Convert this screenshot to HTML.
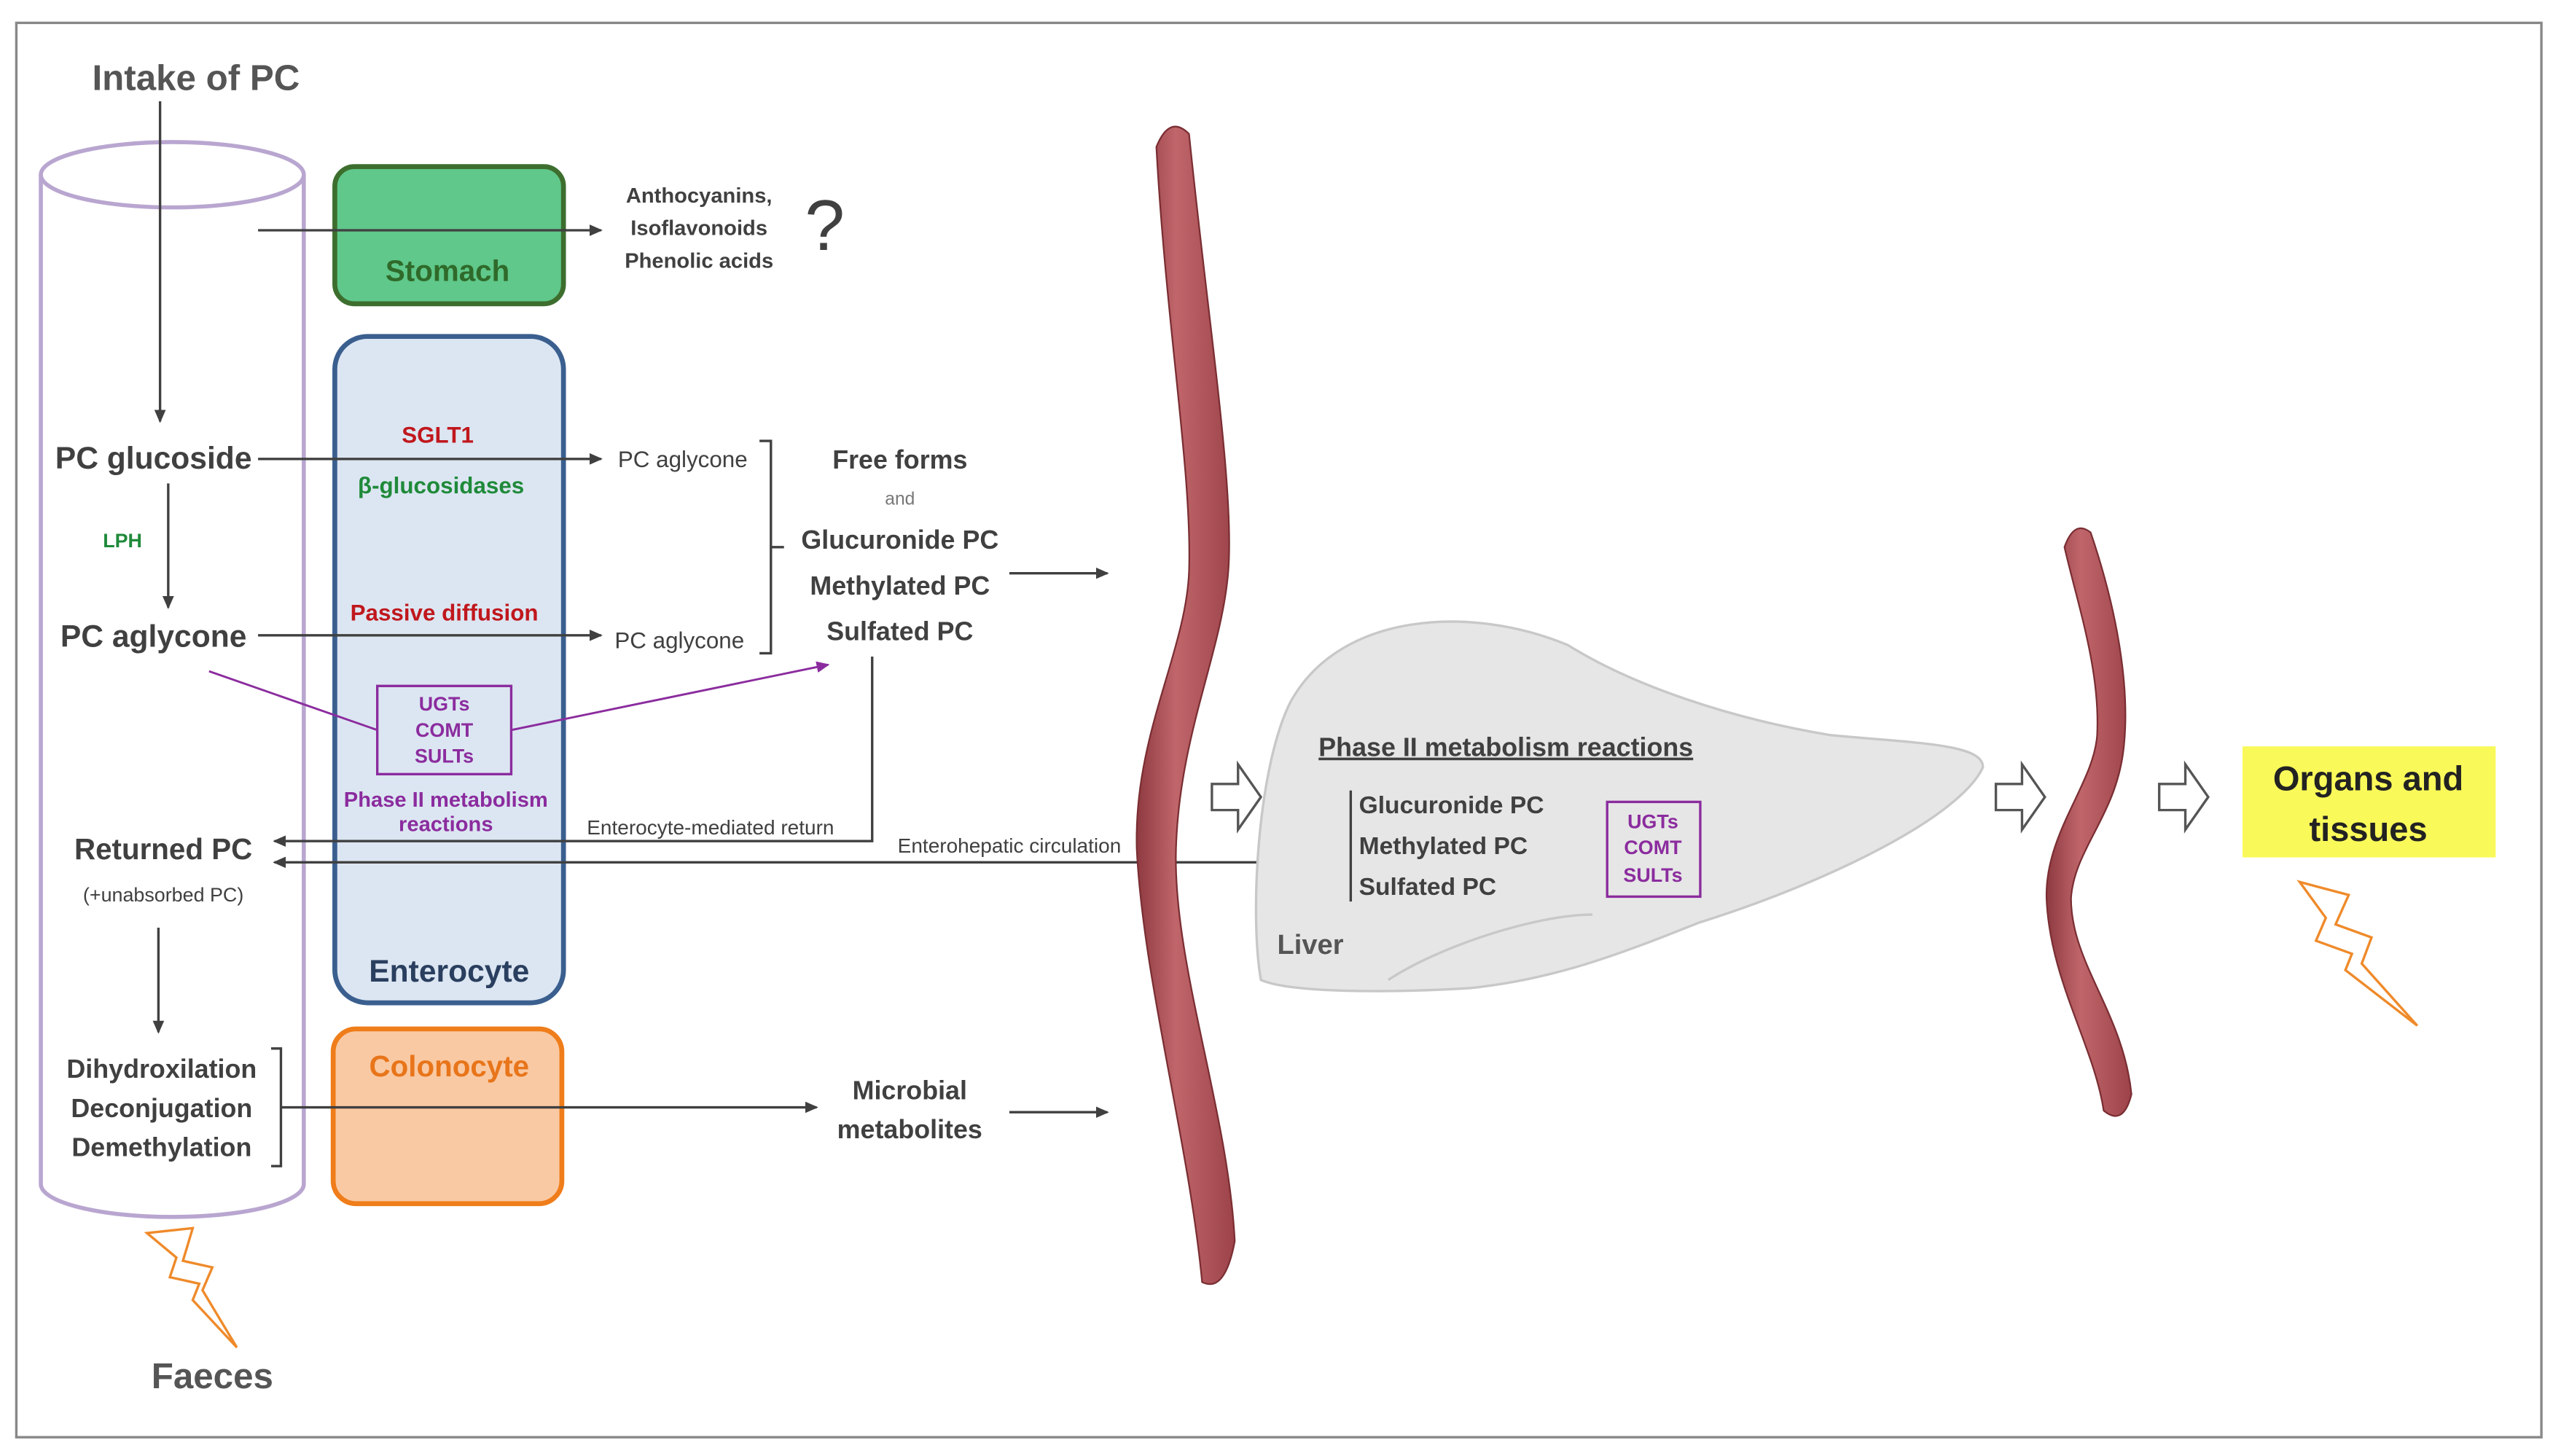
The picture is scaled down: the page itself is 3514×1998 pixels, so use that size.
<!DOCTYPE html>
<html><head><meta charset="utf-8"><style>
html,body{margin:0;padding:0;background:#fff}
svg{display:block}
text{font-family:"Liberation Sans",sans-serif;}
</style></head><body>
<svg width="3514" height="1998" viewBox="0 0 1568 891.5" preserveAspectRatio="none" xmlns="http://www.w3.org/2000/svg">
<defs>
<marker id="a" markerWidth="8" markerHeight="8" refX="7" refY="4" orient="auto" markerUnits="userSpaceOnUse"><path d="M0,0.5 L8,4 L0,7.5 Z" fill="#404040"/></marker>
<marker id="p" markerWidth="8" markerHeight="8" refX="7" refY="4" orient="auto" markerUnits="userSpaceOnUse"><path d="M0,0.5 L8,4 L0,7.5 Z" fill="#8b2c9e"/></marker>
<linearGradient id="v" x1="0" x2="1"><stop offset="0" stop-color="#8e3a40"/><stop offset="0.4" stop-color="#c0666b"/><stop offset="1" stop-color="#9c4349"/></linearGradient>
</defs>
<rect x="10" y="14" width="1546" height="866" fill="#fff" stroke="#888" stroke-width="1.5"/>
<path d="M25,107 L25,725 A80,20 0 0 0 186,725 L186,107" fill="none" stroke="#b9a6d0" stroke-width="2.5"/>
<ellipse cx="105.5" cy="107" rx="80.5" ry="20" fill="none" stroke="#b9a6d0" stroke-width="2.5"/>
<g fill="#404040" font-weight="bold" text-anchor="middle">
<text x="120" y="55" font-size="22" fill="#555">Intake of PC</text>
<text x="130" y="850" font-size="22" fill="#555">Faeces</text>
<text x="94" y="287" font-size="19">PC glucoside</text>
<text x="94" y="396" font-size="19">PC aglycone</text>
<text x="100" y="526" font-size="18">Returned PC</text>
<text x="100" y="552" font-size="12" font-weight="normal">(+unabsorbed PC)</text>
<text x="99" y="660" font-size="16">Dihydroxilation</text>
<text x="99" y="684" font-size="16">Deconjugation</text>
<text x="99" y="708" font-size="16">Demethylation</text>
<text x="75" y="335" font-size="12" fill="#1f8a3a">LPH</text>
</g>
<g stroke="#404040" stroke-width="1.5" fill="none">
<line x1="98" y1="62" x2="98" y2="258" marker-end="url(#a)"/>
<line x1="103" y1="296" x2="103" y2="372" marker-end="url(#a)"/>
<line x1="97" y1="568" x2="97" y2="632" marker-end="url(#a)"/>
</g>
<rect x="205" y="102" width="140" height="84" rx="12" fill="#5fc88a" stroke="#3d6e2e" stroke-width="3"/>
<text x="274" y="172" font-size="18" font-weight="bold" text-anchor="middle" fill="#2f6a2a">Stomach</text>
<rect x="205" y="206" width="140" height="408" rx="20" fill="#dce6f2" stroke="#3a5f8f" stroke-width="3"/>
<text x="275" y="601" font-size="19" font-weight="bold" text-anchor="middle" fill="#2a3f5f">Enterocyte</text>
<rect x="204" y="630" width="140" height="107" rx="14" fill="#f9c9a3" stroke="#ef7d1a" stroke-width="3"/>
<text x="275" y="659" font-size="18" font-weight="bold" text-anchor="middle" fill="#e8751a">Colonocyte</text>
<g font-weight="bold" text-anchor="middle" font-size="14">
<text x="268" y="271" fill="#c0171d">SGLT1</text>
<text x="270" y="302" fill="#1f8a3a">β-glucosidases</text>
<text x="272" y="380" fill="#c0171d">Passive diffusion</text>
<text x="273" y="494" fill="#8b2c9e" font-size="13">Phase II metabolism</text>
<text x="273" y="509" fill="#8b2c9e" font-size="13">reactions</text>
</g>
<rect x="231" y="420" width="82" height="54" fill="none" stroke="#8b2c9e" stroke-width="1.5"/>
<g fill="#8b2c9e" font-size="12" font-weight="bold" text-anchor="middle">
<text x="272" y="435">UGTs</text><text x="272" y="451">COMT</text><text x="272" y="467">SULTs</text>
</g>
<line x1="128" y1="411" x2="231" y2="447" stroke="#8b2c9e" stroke-width="1.3"/>
<line x1="313" y1="447" x2="507" y2="407" stroke="#8b2c9e" stroke-width="1.3" marker-end="url(#p)"/>
<g stroke="#404040" stroke-width="1.5" fill="none">
<line x1="158" y1="141" x2="368" y2="141" marker-end="url(#a)"/>
<line x1="158" y1="281" x2="368" y2="281" marker-end="url(#a)"/>
<line x1="158" y1="389" x2="368" y2="389" marker-end="url(#a)"/>
<path d="M465,270 H472 V400 H465 M472,335 H480"/>
<line x1="618" y1="351" x2="678" y2="351" marker-end="url(#a)"/>
<path d="M534,402 V515 H168" marker-end="url(#a)"/>
<line x1="828" y1="528" x2="168" y2="528" marker-end="url(#a)"/>
<path d="M166,642 H172 V714 H166"/>
<line x1="172" y1="678" x2="500" y2="678" marker-end="url(#a)"/>
<line x1="618" y1="681" x2="678" y2="681" marker-end="url(#a)"/>
</g>
<g fill="#404040" font-weight="bold" text-anchor="middle">
<text x="428" y="124" font-size="13">Anthocyanins,</text>
<text x="428" y="144" font-size="13">Isoflavonoids</text>
<text x="428" y="164" font-size="13">Phenolic acids</text>
<text x="505" y="153" font-size="44" font-weight="normal">?</text>
<text x="418" y="286" font-size="14" font-weight="normal">PC aglycone</text>
<text x="416" y="397" font-size="14" font-weight="normal">PC aglycone</text>
<text x="551" y="287" font-size="16">Free  forms</text>
<text x="551" y="309" font-size="11" font-weight="normal" fill="#777">and</text>
<text x="551" y="336" font-size="16">Glucuronide PC</text>
<text x="551" y="364" font-size="16">Methylated PC</text>
<text x="551" y="392" font-size="16">Sulfated PC</text>
<text x="435" y="511" font-size="12.5" font-weight="normal">Enterocyte-mediated return</text>
<text x="618" y="522" font-size="12.5" font-weight="normal">Enterohepatic circulation</text>
<text x="557" y="673" font-size="16">Microbial</text>
<text x="557" y="697" font-size="16">metabolites</text>
</g>
<path d="M708,90 Q716,70 728,82 C740,200 756,300 752,350 C748,400 722,450 720,520 C718,590 752,680 756,760 Q750,792 736,785 C728,700 700,600 696,520 C694,450 726,400 728,350 C730,290 714,200 708,90 Z" fill="url(#v)" stroke="#7a2e33" stroke-width="1"/>
<path d="M790,430 C820,375 900,370 960,395 C1000,420 1060,440 1120,450 C1170,455 1215,455 1214,470 C1200,500 1120,540 1040,565 C990,585 950,600 900,605 C850,608 790,608 772,600 C765,560 770,470 790,430 Z" fill="#e6e6e6" stroke="#c8c8c8" stroke-width="1.5"/>
<path d="M850,600 C880,580 940,560 975,560" fill="none" stroke="#c8c8c8" stroke-width="1.5"/>
<text x="922" y="463" font-size="16" font-weight="bold" fill="#404040" text-anchor="middle" text-decoration="underline">Phase II metabolism reactions</text>
<line x1="827" y1="484" x2="827" y2="552" stroke="#404040" stroke-width="1.5"/>
<g fill="#404040" font-size="15" font-weight="bold">
<text x="832" y="498">Glucuronide PC</text>
<text x="832" y="523">Methylated PC</text>
<text x="832" y="548">Sulfated PC</text>
<text x="782" y="584" font-size="17" fill="#555">Liver</text>
</g>
<rect x="984" y="491" width="57" height="58" fill="none" stroke="#8b2c9e" stroke-width="1.5"/>
<g fill="#8b2c9e" font-size="12" font-weight="bold" text-anchor="middle">
<text x="1012" y="507">UGTs</text><text x="1012" y="523">COMT</text><text x="1012" y="540">SULTs</text>
</g>
<g fill="#fff" stroke="#555" stroke-width="1.5">
<path d="M742,480 H758 V468 L772,488 L758,508 V496 H742 Z"/>
<path d="M1222,480 H1238 V468 L1252,488 L1238,508 V496 H1222 Z"/>
<path d="M1322,480 H1338 V468 L1352,488 L1338,508 V496 H1322 Z"/>
</g>
<path d="M1264,335 Q1270,318 1280,326 C1295,370 1305,420 1300,460 C1295,500 1270,520 1268,550 C1268,590 1300,620 1305,670 Q1300,690 1288,680 C1282,640 1255,600 1253,550 C1252,510 1282,480 1284,450 C1286,410 1272,370 1264,335 Z" fill="url(#v)" stroke="#7a2e33" stroke-width="1"/>
<rect x="1373" y="457" width="155" height="68" fill="#f9f95a"/>
<g font-size="21" font-weight="bold" text-anchor="middle" fill="#222">
<text x="1450" y="484">Organs and</text><text x="1450" y="515">tissues</text>
</g>
<g fill="none" stroke="#ef8a2a" stroke-width="1.5">
<path d="M90,755 L118,752 L112,772 L130,776 L124,790 L145,825 L118,796 L122,786 L104,782 L108,770 Z"/>
<path d="M1408,540 L1438,548 L1430,566 L1452,574 L1446,590 L1480,628 L1436,594 L1440,584 L1418,576 L1424,562 Z"/>
</g>
</svg>
</body></html>
